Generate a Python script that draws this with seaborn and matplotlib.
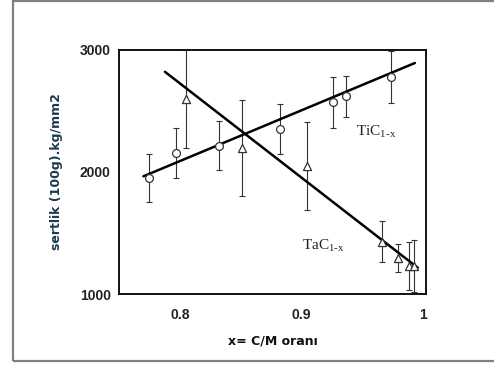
import matplotlib
matplotlib.use("Agg")
import matplotlib.pyplot as plt
import seaborn as sns
import pandas as pd
from matplotlib.patches import Rectangle

# ---- data ----
tic_x = [0.775, 0.797, 0.832, 0.8825, 0.9257, 0.9366, 0.9735]
tic_y = [1950, 2153, 2215, 2349, 2570, 2618, 2777]
tic_err = [200, 205, 200, 205, 210, 170, 210]

tac_x = [0.8046, 0.851, 0.904, 0.966, 0.9795, 0.988, 0.992]
tac_y = [2597, 2194, 2046, 1429, 1298, 1229, 1229]
tac_err = [400, 395, 360, 170, 115, 200, 215]

tic_fit_x = [0.770, 0.993]
tic_fit_y = [1964, 2892]
tac_fit_x = [0.7877, 0.9954]
tac_fit_y = [2820, 1215]

x_ticks = [0.8, 0.9, 1.0]
x_tick_labels = ["0.8", "0.9", "1"]
y_ticks = [1000, 2000, 3000]
y_tick_labels = ["1000", "2000", "3000"]

sns.set_style("white")
plt.rcParams['font.family'] = ['DejaVu Sans']

fig = plt.figure(figsize=(4.94, 3.65), dpi=100)
ax = fig.add_axes([0.241, 0.1945, 0.621, 0.669])

# outer gray frame
fig.patches.append(Rectangle((12.5 / 494, 4.5 / 365), 1.2, (365 - 5.5) / 365,
                             transform=fig.transFigure, fill=False,
                             edgecolor="#808080", linewidth=1.6, zorder=0))

tic = pd.DataFrame({"x": tic_x, "y": tic_y, "err": tic_err})
tac = pd.DataFrame({"x": tac_x, "y": tac_y, "err": tac_err})
fits = pd.DataFrame({
    "x": tic_fit_x + tac_fit_x,
    "y": tic_fit_y + tac_fit_y,
    "series": ["TiC"] * 2 + ["TaC"] * 2,
})

sns.lineplot(data=fits, x="x", y="y", units="series", estimator=None,
             color="black", linewidth=1.8, ax=ax, legend=False, zorder=3)

for df in (tic, tac):
    ax.errorbar(df["x"], df["y"], yerr=df["err"], fmt="none", ecolor="#333333",
                elinewidth=0.8, capsize=2.5, capthick=0.8, zorder=2)

sns.scatterplot(data=tic, x="x", y="y", marker="o", s=32, facecolor="white",
                edgecolor="#333333", linewidth=0.9, ax=ax, zorder=4)
sns.scatterplot(data=tac, x="x", y="y", marker="^", s=34, facecolor="white",
                edgecolor="#333333", linewidth=0.9, ax=ax, zorder=4)

ax.text(0.945, 2330, r"TiC$_{\mathregular{1\text{-}x}}$", family="Liberation Serif",
        fontsize=11, va="center", ha="left", color="#222222")
ax.text(0.9, 1395, r"TaC$_{\mathregular{1\text{-}x}}$", family="Liberation Serif",
        fontsize=11, va="center", ha="left", color="#222222")

ax.set_xlim(0.75, 1.002)
ax.set_ylim(1000, 3000)
ax.set_xticks(x_ticks)
ax.set_xticklabels(x_tick_labels)
ax.set_yticks(y_ticks)
ax.set_yticklabels(y_tick_labels)
ax.tick_params(direction="in", length=3, width=0.8, colors="#222222",
               labelsize=10, pad=6)
ax.tick_params(axis="x", pad=10)
for lab in ax.get_xticklabels() + ax.get_yticklabels():
    lab.set_family("Liberation Sans")
    lab.set_fontweight("bold")
for sp in ax.spines.values():
    sp.set_color("#111111")
    sp.set_linewidth(1.4)

ax.set_xlabel("x= C/M oranı", fontsize=9, fontweight="bold", color="#111111", labelpad=9)
ax.set_ylabel("sertlik (100g).kg/mm2", fontsize=9, fontweight="bold",
              color="#1b3a4b", labelpad=12)

fig.savefig("out.png", dpi=100, facecolor="white")
